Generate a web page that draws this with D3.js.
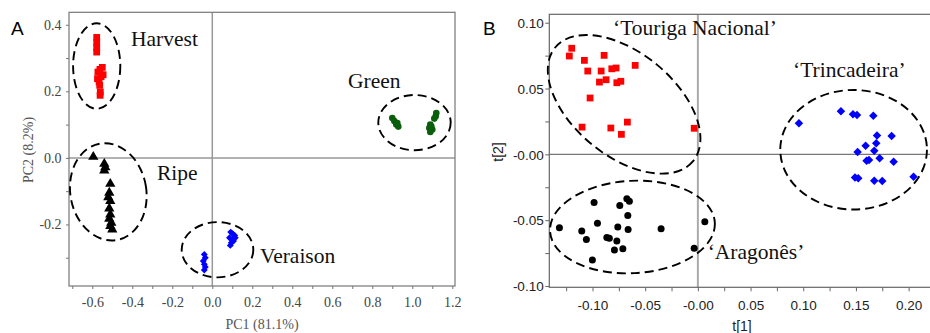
<!DOCTYPE html>
<html><head><meta charset="utf-8">
<script src="https://cdn.jsdelivr.net/npm/d3@7"></script>
<style>body{margin:0;background:#fff}svg{display:block}</style>
</head><body>
<script>
// ---------- Panel A data ----------
const harvestA = [[-0.578,0.362],[-0.578,0.347],[-0.578,0.332],[-0.578,0.318],[-0.55,0.272],[-0.562,0.266],[-0.572,0.258],[-0.546,0.25],[-0.556,0.244],[-0.574,0.238],[-0.566,0.228],[-0.563,0.218],[-0.56,0.198],[-0.561,0.188]];
const ripeA = [[-0.595,0.003],[-0.54,-0.018],[-0.535,-0.028],[-0.54,-0.038],[-0.51,-0.078],[-0.515,-0.105],[-0.52,-0.118],[-0.51,-0.13],[-0.515,-0.152],[-0.51,-0.17],[-0.515,-0.183],[-0.505,-0.195],[-0.51,-0.205],[-0.5,-0.215]];
const veraisonA = [[-0.04,-0.29],[-0.035,-0.3],[-0.045,-0.31],[-0.04,-0.32],[-0.035,-0.328],[-0.04,-0.337],[0.092,-0.223],[0.102,-0.228],[0.112,-0.233],[0.086,-0.24],[0.1,-0.245],[0.115,-0.24],[0.095,-0.255],[0.09,-0.263],[0.106,-0.25]];
const greenA = [[0.9,0.12],[0.91,0.111],[0.92,0.1],[0.93,0.094],[0.925,0.105],[1.12,0.135],[1.117,0.125],[1.11,0.118],[1.09,0.1],[1.085,0.09],[1.09,0.078],[1.1,0.085],[1.095,0.095]];
const xTickLabelsA = ["-0.6","-0.4","-0.2","0.0","0.2","0.4","0.6","0.8","1.0","1.2"];
const yTickLabelsA = ["-0.2","0.0","0.2","0.4"];
const groupLabelsA = ["Harvest","Ripe","Veraison","Green"];

// ---------- Panel B data ----------
const tourigaB = [[-0.1197,0.0806],[-0.122,0.0747],[-0.1077,0.0714],[-0.089,0.0752],[-0.1045,0.0633],[-0.0918,0.0633],[-0.0817,0.065],[-0.0776,0.0656],[-0.0595,0.0676],[-0.0934,0.0549],[-0.0871,0.0567],[-0.0769,0.0544],[-0.0731,0.0555],[-0.1023,0.0428],[-0.1099,0.0207],[-0.0826,0.02],[-0.0669,0.0245],[-0.0726,0.0152],[-0.0035,0.0198]];
const aragonesB = [[-0.1314,-0.0558],[-0.1102,-0.0583],[-0.1058,-0.0646],[-0.1001,-0.0803],[-0.0985,-0.0365],[-0.0953,-0.0524],[-0.0864,-0.0631],[-0.084,-0.0638],[-0.0769,-0.0659],[-0.0792,-0.0727],[-0.0712,-0.0717],[-0.076,-0.0552],[-0.0741,-0.0388],[-0.0674,-0.0337],[-0.065,-0.0357],[-0.0665,-0.0464],[-0.0662,-0.057],[-0.0349,-0.0565],[0.0066,-0.0512],[-0.0035,-0.0714]];
const trincadeiraB = [[0.0959,0.0236],[0.1358,0.0327],[0.1472,0.0304],[0.151,0.0299],[0.1665,0.0293],[0.17,0.0144],[0.1839,0.0139],[0.1592,0.0065],[0.1693,0.0084],[0.1674,0.0027],[0.1516,0.0017],[0.1725,-0.003],[0.1601,-0.0049],[0.1624,-0.0043],[0.1858,-0.0056],[0.1491,-0.0175],[0.1522,-0.0182],[0.1674,-0.0201],[0.175,-0.0203],[0.2047,-0.017]];
const xTickLabelsB = ["-0.10","-0.05","-0.00","0.05","0.10","0.15","0.20"];
const yTickLabelsB = ["-0.10","-0.05","-0.00","0.05","0.10"];
const groupLabelsB = ["\u2018Touriga Nacional\u2019","\u2018Trincadeira\u2019","\u2018Arag\u00f4nes\u2019".replace("\u00f4nes","on\u00eas")];

// confidence ellipses: [cx, cy, rx, ry, rotationDeg] in data units
const ellipsesA = [[-0.578,0.276,0.118,0.1285,0],[-0.52,-0.102,0.19,0.147,-10],[1.011,0.106,0.181,0.083,0],[0.026,-0.276,0.179,0.083,0]];
const ellipsesB = [[-0.07,0.038,0.0848,0.0391,39.5],[-0.0621,-0.0552,0.0783,0.0351,-3],[0.1478,0.0035,0.0696,0.0454,0]];

const W = 930, H = 333;
const svg = d3.select("body").append("svg").attr("width", W).attr("height", H);
const serif = "'Liberation Serif','Times New Roman',serif";
const sans = "'Liberation Sans',Arial,sans-serif";

function drawEllipses(g, list, x, y) {
  g.selectAll("ellipse.conf").data(list).join("ellipse").attr("class","conf")
    .attr("cx", 0).attr("cy", 0)
    .attr("rx", d => Math.abs(x(d[0]+d[2]) - x(d[0])))
    .attr("ry", d => Math.abs(y(d[1]+d[3]) - y(d[1])))
    .attr("transform", d => `translate(${x(d[0])},${y(d[1])}) rotate(${d[4]})`)
    .attr("fill","none").attr("stroke","#000").attr("stroke-width",1.9)
    .attr("stroke-dasharray","9,5");
}

// ================= Panel A =================
{
  const x = d3.scaleLinear().domain([-0.7165, 1.2135]).range([69, 455]);
  const y = d3.scaleLinear().domain([-0.385, 0.4375]).range([286, 12.3]);
  const g = svg.append("g");
  const fmtX = v => { const s = xTickLabelsA.find(l => Math.abs(+l - v) < 1e-6); return s || ""; };
  const fmtY = v => { const s = yTickLabelsA.find(l => Math.abs(+l - v) < 1e-6); return s || ""; };

  // zero lines
  g.append("line").attr("x1", x(0)).attr("x2", x(0)).attr("y1", y.range()[1]).attr("y2", y.range()[0]).attr("stroke","#999").attr("stroke-width",1.5);
  g.append("line").attr("x1", x.range()[0]).attr("x2", x.range()[1]).attr("y1", y(0)).attr("y2", y(0)).attr("stroke","#999").attr("stroke-width",1.5);
  // frame
  g.append("rect").attr("x", x.range()[0]).attr("y", y.range()[1]).attr("width", x.range()[1]-x.range()[0]).attr("height", y.range()[0]-y.range()[1]).attr("fill","none").attr("stroke","#777").attr("stroke-width",1.2);

  const xa = g.append("g").attr("transform", `translate(0,${y.range()[0]})`)
    .call(d3.axisBottom(x).tickValues(d3.range(-7, 13).map(i => i/10)).tickFormat(fmtX).tickSize(3).tickSizeOuter(0));
  const ya = g.append("g").attr("transform", `translate(${x.range()[0]},0)`)
    .call(d3.axisLeft(y).tickValues(d3.range(-3, 5).map(i => i/10)).tickFormat(fmtY).tickSize(3).tickSizeOuter(0));
  [xa, ya].forEach(a => { a.select(".domain").remove(); a.selectAll("line").attr("stroke","#777");
    a.selectAll("text").attr("font-family", serif).attr("font-size", 14).attr("fill","#444"); });
  xa.selectAll("text").attr("dy","1.05em");
  ya.selectAll("text").attr("dx","-0.1em");

  g.append("text").attr("x", 262).attr("y", 329).attr("text-anchor","middle").attr("font-family",serif).attr("font-size",14).attr("fill","#555").text("PC1 (81.1%)");
  g.append("text").attr("transform","translate(33,150) rotate(-90)").attr("text-anchor","middle").attr("font-family",serif).attr("font-size",14).attr("fill","#555").text("PC2 (8.2%)");
  g.append("text").attr("x", 11).attr("y", 35).attr("font-family",sans).attr("font-size",19).attr("fill","#000").text("A");

  drawEllipses(g, ellipsesA, x, y);

  g.selectAll("path.h").data(harvestA).join("path").attr("class","h")
    .attr("d", d3.symbol(d3.symbolSquare, 46)).attr("transform", d => `translate(${x(d[0])},${y(d[1])})`).attr("fill","#ff0000");
  g.selectAll("path.r").data(ripeA).join("path").attr("class","r")
    .attr("d", d3.symbol(d3.symbolTriangle, 46)).attr("transform", d => `translate(${x(d[0])},${y(d[1])})`).attr("fill","#000");
  g.selectAll("path.v").data(veraisonA).join("path").attr("class","v")
    .attr("d", d3.symbol(d3.symbolSquare, 24)).attr("transform", d => `translate(${x(d[0])},${y(d[1])}) rotate(45)`).attr("fill","#0000ff");
  g.selectAll("circle.gr").data(greenA).join("circle").attr("class","gr")
    .attr("cx", d => x(d[0])).attr("cy", d => y(d[1])).attr("r", 3.3).attr("fill","#0b5e0b");

  const labPos = [[131,45.7],[157,180],[260,262.7],[348,88.3]];
  g.selectAll("text.lab").data(groupLabelsA).join("text").attr("class","lab")
    .attr("x",(d,i)=>labPos[i][0]).attr("y",(d,i)=>labPos[i][1])
    .attr("font-family",serif).attr("font-size",21.5).attr("fill","#111").text(d=>d);
}

// ================= Panel B =================
{
  const x = d3.scaleLinear().domain([-0.141, 0.2203]).range([549.3, 930]);
  const y = d3.scaleLinear().domain([-0.101, 0.1064]).range([287.3, 14.3]);
  const g = svg.append("g");
  const fmtX = v => { const s = xTickLabelsB.find(l => Math.abs(+l - v) < 1e-6); return s || ""; };
  const fmtY = v => { const s = yTickLabelsB.find(l => Math.abs(+l - v) < 1e-6); return s || ""; };

  g.append("line").attr("x1", x(0)).attr("x2", x(0)).attr("y1", y.range()[1]).attr("y2", y.range()[0]).attr("stroke","#aaa").attr("stroke-width",2);
  g.append("line").attr("x1", x.range()[0]).attr("x2", x.range()[1]).attr("y1", y(0)).attr("y2", y(0)).attr("stroke","#777").attr("stroke-width",1.2);
  g.append("rect").attr("x", x.range()[0]).attr("y", y.range()[1]).attr("width", x.range()[1]-x.range()[0]+5).attr("height", y.range()[0]-y.range()[1]).attr("fill","none").attr("stroke","#666").attr("stroke-width",1.2);

  const xa = g.append("g").attr("transform", `translate(0,${y.range()[0]})`)
    .call(d3.axisBottom(x).tickValues(d3.range(-5, 9).map(i => i*0.025)).tickFormat(fmtX).tickSize(4).tickSizeOuter(0));
  const ya = g.append("g").attr("transform", `translate(${x.range()[0]},0)`)
    .call(d3.axisLeft(y).tickValues(d3.range(-4, 5).map(i => i*0.025)).tickFormat(fmtY).tickSize(4).tickSizeOuter(0));
  [xa, ya].forEach(a => { a.select(".domain").remove(); a.selectAll("line").attr("stroke","#666");
    a.selectAll("text").attr("font-family", sans).attr("font-size", 13.5).attr("fill","#222"); });
  xa.selectAll("text").attr("dy","1.15em");
  ya.selectAll("text").attr("dx","0.1em").attr("dy","0.35em");

  g.append("text").attr("x", 742).attr("y", 331).attr("text-anchor","middle").attr("font-family",sans).attr("font-size",14).attr("fill","#222").text("t[1]");
  g.append("text").attr("transform","translate(503,152) rotate(-90)").attr("text-anchor","middle").attr("font-family",sans).attr("font-size",14).attr("fill","#222").text("t[2]");
  g.append("text").attr("x", 483).attr("y", 35).attr("font-family",sans).attr("font-size",19).attr("fill","#000").text("B");

  drawEllipses(g, ellipsesB, x, y);

  g.selectAll("path.t").data(tourigaB).join("path").attr("class","t")
    .attr("d", d3.symbol(d3.symbolSquare, 46)).attr("transform", d => `translate(${x(d[0])},${y(d[1])})`).attr("fill","#ff0000");
  g.selectAll("circle.a").data(aragonesB).join("circle").attr("class","a")
    .attr("cx", d => x(d[0])).attr("cy", d => y(d[1])).attr("r", 3.5).attr("fill","#000");
  g.selectAll("path.tr").data(trincadeiraB).join("path").attr("class","tr")
    .attr("d", d3.symbol(d3.symbolSquare, 36)).attr("transform", d => `translate(${x(d[0])},${y(d[1])}) rotate(45)`).attr("fill","#0000ff");

  const labPos = [[613,35],[793,77.3],[707.7,259.3]];
  g.selectAll("text.lab").data(groupLabelsB).join("text").attr("class","lab")
    .attr("x",(d,i)=>labPos[i][0]).attr("y",(d,i)=>labPos[i][1])
    .attr("font-family",serif).attr("font-size",21.5).attr("fill","#111").text(d=>d);
}
</script>
</body></html>
